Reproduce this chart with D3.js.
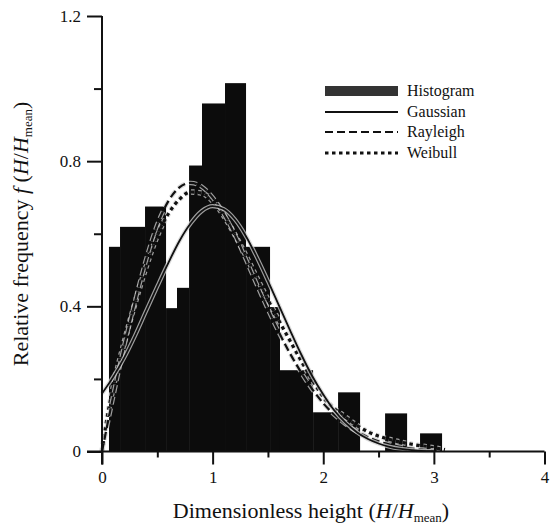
<!DOCTYPE html>
<html>
<head>
<meta charset="utf-8">
<script src="https://cdn.jsdelivr.net/npm/d3@7/dist/d3.min.js"></script>
<style>
  html, body { margin: 0; padding: 0; background: #fff; }
  svg { display: block; }
  text { font-family: "Liberation Serif", "DejaVu Serif", serif; fill: #111; }
</style>
</head>
<body>
<svg id="chart" width="551" height="524"></svg>
<script>
// Histogram bins (dimensionless height) and their relative frequency
const binStart = [0.063, 0.163, 0.389, 0.579, 0.678, 0.787, 0.904, 1.112, 1.302, 1.519, 1.609, 1.908, 2.134, 2.559, 2.875];
const binEnd   = [0.163, 0.389, 0.579, 0.678, 0.787, 0.904, 1.112, 1.302, 1.519, 1.609, 1.908, 2.134, 2.333, 2.758, 3.074];
const binFreq  = [0.564, 0.619, 0.675, 0.395, 0.451, 0.788, 0.959, 1.015, 0.564, 0.398, 0.224, 0.108, 0.163, 0.105, 0.050];

// Fitted distributions, sampled along H/Hmean
const gaussX = [0, 0.1, 0.2, 0.3, 0.4, 0.5, 0.6, 0.7, 0.8, 0.9, 1.0, 1.1, 1.2, 1.3, 1.4, 1.5, 1.6, 1.7, 1.8, 1.9, 2.0, 2.1, 2.2, 2.3, 2.4, 2.5, 2.6, 2.8, 3.0];
const gaussY = [0.160, 0.205, 0.258, 0.320, 0.388, 0.455, 0.520, 0.580, 0.628, 0.662, 0.676, 0.668, 0.640, 0.594, 0.535, 0.470, 0.402, 0.334, 0.268, 0.208, 0.157, 0.113, 0.080, 0.054, 0.035, 0.022, 0.013, 0.004, 0.001];

const rayX = [0, 0.1, 0.2, 0.3, 0.4, 0.5, 0.6, 0.7, 0.8, 0.9, 1.0, 1.1, 1.2, 1.3, 1.4, 1.5, 1.6, 1.7, 1.8, 1.9, 2.0, 2.2, 2.4, 2.6, 2.8, 3.0];
const rayY = [0.000, 0.150, 0.290, 0.415, 0.530, 0.625, 0.690, 0.728, 0.740, 0.730, 0.700, 0.655, 0.598, 0.530, 0.460, 0.392, 0.328, 0.270, 0.218, 0.172, 0.133, 0.076, 0.040, 0.019, 0.008, 0.003];

const weiX = [0, 0.05, 0.1, 0.2, 0.3, 0.4, 0.5, 0.6, 0.7, 0.8, 0.9, 1.0, 1.1, 1.2, 1.3, 1.4, 1.5, 1.6, 1.7, 1.8, 1.9, 2.0, 2.2, 2.4, 2.6, 2.8, 3.0, 3.1];
const weiY = [0.000, 0.100, 0.175, 0.300, 0.410, 0.510, 0.595, 0.655, 0.695, 0.715, 0.712, 0.690, 0.650, 0.598, 0.540, 0.478, 0.418, 0.360, 0.305, 0.250, 0.198, 0.150, 0.095, 0.055, 0.033, 0.020, 0.010, 0.005];

// Axis ticks
const xMajor = [0, 1, 2, 3, 4];
const xMinor = [0.5, 1.5, 2.5, 3.5];
const yMajor = [0, 0.4, 0.8, 1.2];
const yMinor = [0.2, 0.6, 1.0];

const legendNames = ["Histogram", "Gaussian", "Rayleigh", "Weibull"];

const svg = d3.select("#chart");
const x = d3.scaleLinear().domain([0, 4]).range([102, 544.5]);
const y = d3.scaleLinear().domain([0, 1.2]).range([451.5, 16]);

// Bars
const bins = binStart.map((s, i) => ({ s, e: binEnd[i], f: binFreq[i] }));
svg.append("g").selectAll("rect").data(bins).join("rect")
  .attr("x", d => x(d.s))
  .attr("width", d => x(d.e) - x(d.s))
  .attr("y", d => y(d.f))
  .attr("height", d => y(0) - y(d.f))
  .attr("fill", "#0c0c0c");

// Curves, each with a pale halo so it stays visible over the bars
const line = d3.line().x(d => x(d[0])).y(d => y(d[1])).curve(d3.curveMonotoneX);
const curves = [
  { pts: d3.zip(weiX, weiY), dash: "3.5,3.5", w: 3.2 },
  { pts: d3.zip(rayX, rayY), dash: "8,4", w: 2.2 },
  { pts: d3.zip(gaussX, gaussY), dash: null, w: 1.8 }
];
const cg = svg.append("g").attr("fill", "none");
curves.forEach(c => {
  cg.append("path").attr("d", line(c.pts))
    .attr("stroke", "#d0d0d0").attr("stroke-width", c.w + 2.4)
    .attr("stroke-dasharray", c.dash).attr("opacity", 0.75);
  cg.append("path").attr("d", line(c.pts))
    .attr("stroke", "#111").attr("stroke-width", c.w)
    .attr("stroke-dasharray", c.dash);
});

// Axes
const ax = svg.append("g");
ax.append("line").attr("x1", 87).attr("x2", x(4)).attr("y1", y(0)).attr("y2", y(0))
  .attr("stroke", "#111").attr("stroke-width", 2);
ax.append("line").attr("x1", x(0)).attr("x2", x(0)).attr("y1", y(1.2)).attr("y2", y(0) + 13)
  .attr("stroke", "#111").attr("stroke-width", 2);

const xAxisMaj = d3.axisBottom(x).tickValues(xMajor).tickSize(13).tickPadding(6).tickFormat(d3.format("d"));
const xAxisMin = d3.axisBottom(x).tickValues(xMinor).tickSize(6).tickFormat("");
const yAxisMaj = d3.axisLeft(y).tickValues(yMajor).tickSize(15).tickPadding(6).tickFormat(d => d === 0 ? "0" : d3.format(".1f")(d));
const yAxisMin = d3.axisLeft(y).tickValues(yMinor).tickSize(8).tickFormat("");

function styleAxis(g) {
  g.select(".domain").remove();
  g.selectAll("line").attr("stroke", "#111").attr("stroke-width", 2);
  g.selectAll("text").attr("font-family", "Liberation Serif, serif").attr("font-size", 17).attr("fill", "#111");
}
svg.append("g").attr("transform", `translate(0,${y(0)})`).call(xAxisMaj).call(styleAxis);
svg.append("g").attr("transform", `translate(0,${y(0)})`).call(xAxisMin).call(styleAxis);
svg.append("g").attr("transform", `translate(${x(0)},0)`).call(yAxisMaj).call(styleAxis);
svg.append("g").attr("transform", `translate(${x(0)},0)`).call(yAxisMin).call(styleAxis);

// Axis titles
const xt = svg.append("text").attr("x", 311).attr("y", 518).attr("text-anchor", "middle").attr("font-size", 22);
xt.append("tspan").text("Dimensionless height (");
xt.append("tspan").attr("font-style", "italic").text("H");
xt.append("tspan").text("/");
xt.append("tspan").attr("font-style", "italic").text("H");
xt.append("tspan").attr("font-size", 13).attr("dy", 4).text("mean");
xt.append("tspan").attr("dy", -4).text(")");

const yt = svg.append("text").attr("transform", "translate(28,234) rotate(-90)")
  .attr("text-anchor", "middle").attr("font-size", 22);
yt.append("tspan").text("Relative frequency ");
yt.append("tspan").attr("font-style", "italic").text("f");
yt.append("tspan").text(" (");
yt.append("tspan").attr("font-style", "italic").text("H");
yt.append("tspan").text("/");
yt.append("tspan").attr("font-style", "italic").text("H");
yt.append("tspan").attr("font-size", 13).attr("dy", 4).text("mean");
yt.append("tspan").attr("dy", -4).text(")");

// Legend
const lg = svg.append("g");
const rowY = [91, 112, 132, 153];
const lx0 = 325, lx1 = 398;
lg.append("rect").attr("x", lx0).attr("y", rowY[0] - 5).attr("width", lx1 - lx0).attr("height", 10).attr("fill", "#333");
const legendDash = [null, null, "8,4", "3.5,3.5"];
const legendW = [0, 1.8, 2.2, 3.2];
[1, 2, 3].forEach(i => {
  lg.append("line").attr("x1", lx0).attr("x2", lx1).attr("y1", rowY[i]).attr("y2", rowY[i])
    .attr("stroke", "#111").attr("stroke-width", legendW[i]).attr("stroke-dasharray", legendDash[i]);
});
legendNames.forEach((n, i) => {
  lg.append("text").attr("x", 407).attr("y", rowY[i] + 5).attr("font-size", 16).text(n);
});
</script>
</body>
</html>
